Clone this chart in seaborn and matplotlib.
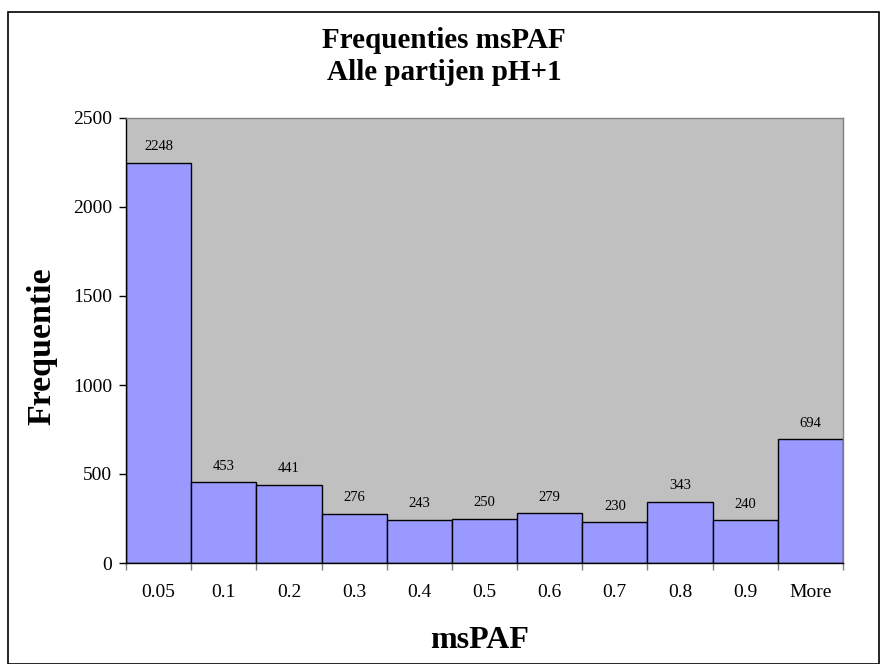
import matplotlib
matplotlib.use("Agg")
import matplotlib.pyplot as plt
from matplotlib.patches import Rectangle
import seaborn as sns
import pandas as pd
import numpy as np

bins = ["0.05", "0.1", "0.2", "0.3", "0.4", "0.5", "0.6", "0.7", "0.8", "0.9", "More"]
counts = [2248, 453, 441, 276, 243, 250, 279, 230, 343, 240, 694]
y_ticks = [0, 500, 1000, 1500, 2000, 2500]

sns.set_style("white")
plt.rcParams["font.family"] = ["Liberation Serif", "DejaVu Serif"]
plt.rcParams["text.color"] = "black"
plt.rcParams["xtick.color"] = "black"
plt.rcParams["ytick.color"] = "black"
plt.rcParams["axes.labelcolor"] = "black"

df = pd.DataFrame({"bin": bins, "count": counts})

W, H = 883, 664
fig = plt.figure(figsize=(W / 100, H / 100), dpi=100)
ax = fig.add_axes([126 / W, 1 - 563 / H, (843 - 126) / W, (563 - 118) / H])

sns.barplot(data=df, x="bin", y="count", color="#9999FF", saturation=1,
            width=1.0, edgecolor="black", linewidth=1.0, ax=ax)
ax.set_facecolor("#C0C0C0")

ax.set_xlim(-0.5, len(bins) - 0.5)
ax.set_ylim(0, 2500)
ax.set_yticks(y_ticks)
ax.tick_params(axis="y", direction="out", length=5, width=1, color="black",
               labelsize=14, pad=5, left=True)
ax.tick_params(axis="x", which="major", length=0, labelsize=14, pad=15)
ax.set_xticks(np.arange(-0.5, len(bins) + 0.5, 1), minor=True)
ax.tick_params(axis="x", which="minor", direction="out", length=5, width=1,
               color="#808080", bottom=True)

for side in ["left", "bottom"]:
    ax.spines[side].set_color("black")
    ax.spines[side].set_linewidth(1.0)
for side in ["top", "right"]:
    ax.spines[side].set_visible(True)
    ax.spines[side].set_color("#808080")
    ax.spines[side].set_linewidth(1.0)

for i, v in enumerate(counts):
    ax.annotate(str(v), (i, v), xytext=(0, 11.5), textcoords="offset points",
                ha="center", va="center", fontsize=10.5)

ax.set_xlabel("")
ax.set_ylabel("")
fig.text(480 / W, 1 - 648 / H, "msPAF", ha="center", va="baseline",
         fontsize=23, fontweight="bold")
fig.text(42 / W, 1 - 346 / H, "Frequentie", ha="center", va="center",
         rotation=90, fontsize=24.5, fontweight="bold")

fig.text(444 / W, 1 - 48 / H, "Frequenties msPAF", ha="center", va="baseline",
         fontsize=21, fontweight="bold")
fig.text(444 / W, 1 - 80 / H, "Alle partijen pH+1", ha="center", va="baseline",
         fontsize=21, fontweight="bold")

fig.patches.append(Rectangle((8 / W, 0), (879 - 8) / W, 1 - 12 / H,
                             transform=fig.transFigure, fill=False,
                             edgecolor="black", linewidth=1.2))

fig.savefig("out.png", dpi=100)
